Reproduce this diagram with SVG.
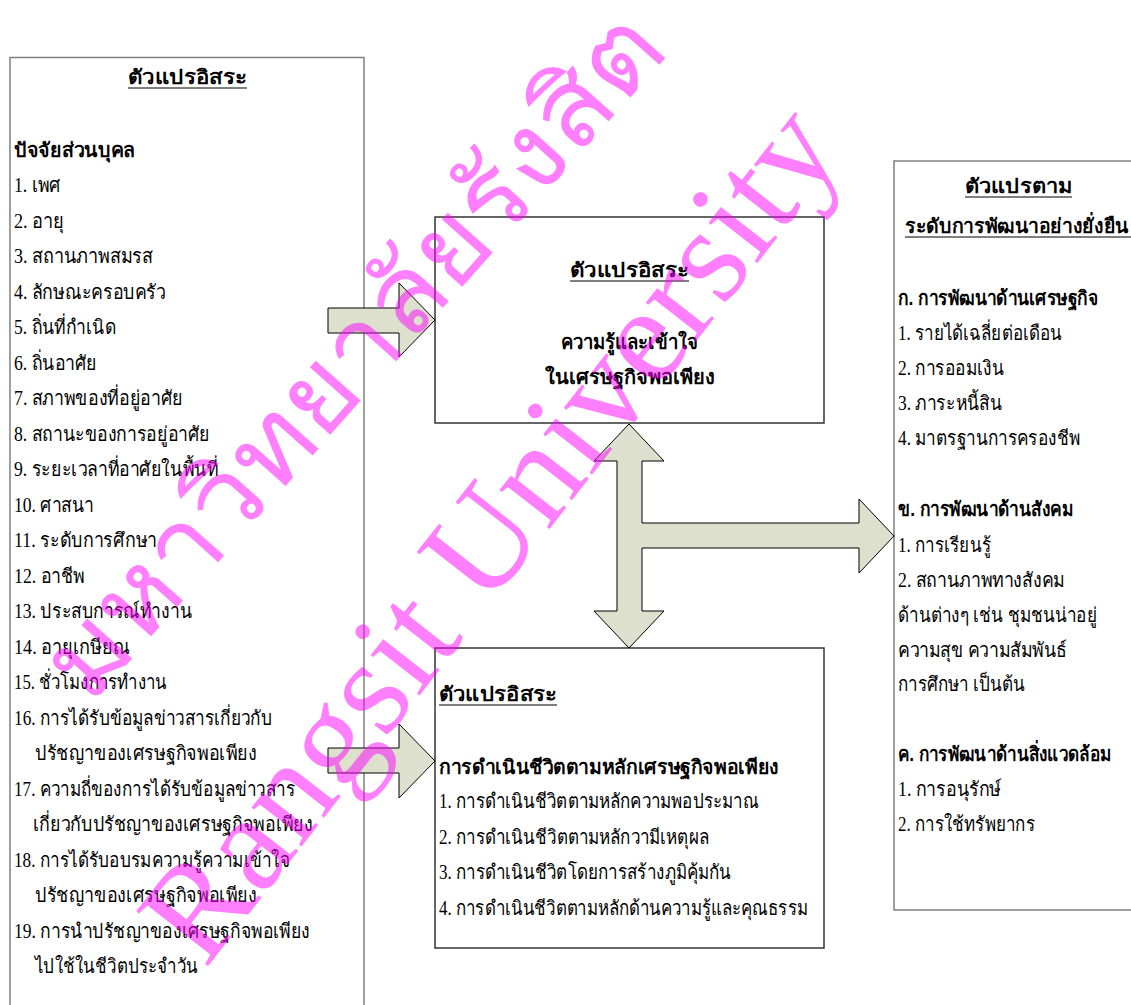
<svg xmlns="http://www.w3.org/2000/svg" width="1131" height="1005" viewBox="0 0 1131 1005">
<style>
.t{font-family:"Liberation Serif","Noto Sans",serif;font-size:20px;fill:#000}
.b{font-family:"Liberation Sans","Noto Sans",sans-serif;font-size:20px;font-weight:bold;fill:#000}
.box{fill:#fff;stroke:#808080;stroke-width:1.5}
.box2{fill:#fff;stroke:#333;stroke-width:1.5}
.ul{stroke:#000;stroke-width:1.2}
.arr{fill:#DDE0CC;stroke:#000;stroke-width:1}
.wm{fill:#FF00FF;fill-opacity:0.5}
</style>
<rect width="1131" height="1005" fill="#fff"/>
<g id="independent-personal">
<path class="box" d="M10,1010 V57.5 H364 V1010"/>
<text class="b" x="187.5" y="84" text-anchor="middle" textLength="119" lengthAdjust="spacingAndGlyphs">ตัวแปรอิสระ</text>
<line class="ul" x1="128" y1="88" x2="247" y2="88"/>
<text class="b" x="14" y="157" textLength="121" lengthAdjust="spacingAndGlyphs">ปัจจัยส่วนบุคล</text>
<text class="t" x="14" y="192" textLength="47" lengthAdjust="spacingAndGlyphs">1. เพศ</text>
<text class="t" x="14" y="227.5" textLength="50" lengthAdjust="spacingAndGlyphs">2. อายุ</text>
<text class="t" x="14" y="263" textLength="139" lengthAdjust="spacingAndGlyphs">3. สถานภาพสมรส</text>
<text class="t" x="14" y="298.5" textLength="152" lengthAdjust="spacingAndGlyphs">4. ลักษณะครอบครัว</text>
<text class="t" x="14" y="334" textLength="102" lengthAdjust="spacingAndGlyphs">5. ถิ่นที่กำเนิด</text>
<text class="t" x="14" y="369.5" textLength="83" lengthAdjust="spacingAndGlyphs">6. ถิ่นอาศัย</text>
<text class="t" x="14" y="405" textLength="169" lengthAdjust="spacingAndGlyphs">7. สภาพของที่อยู่อาศัย</text>
<text class="t" x="14" y="440.5" textLength="196" lengthAdjust="spacingAndGlyphs">8. สถานะของการอยู่อาศัย</text>
<text class="t" x="14" y="476" textLength="204" lengthAdjust="spacingAndGlyphs">9. ระยะเวลาที่อาศัยในพื้นที่</text>
<text class="t" x="14" y="511.5" textLength="80" lengthAdjust="spacingAndGlyphs">10. ศาสนา</text>
<text class="t" x="14" y="547" textLength="143" lengthAdjust="spacingAndGlyphs">11. ระดับการศึกษา</text>
<text class="t" x="14" y="582.5" textLength="71" lengthAdjust="spacingAndGlyphs">12. อาชีพ</text>
<text class="t" x="14" y="618" textLength="178" lengthAdjust="spacingAndGlyphs">13. ประสบการณ์ทำงาน</text>
<text class="t" x="14" y="653.5" textLength="116" lengthAdjust="spacingAndGlyphs">14. อายุเกษียณ</text>
<text class="t" x="14" y="689" textLength="153" lengthAdjust="spacingAndGlyphs">15. ชั่วโมงการทำงาน</text>
<text class="t" x="14" y="724.5" textLength="258" lengthAdjust="spacingAndGlyphs">16. การได้รับข้อมูลข่าวสารเกี่ยวกับ</text>
<text class="t" x="35" y="760" textLength="222" lengthAdjust="spacingAndGlyphs">ปรัชญาของเศรษฐกิจพอเพียง</text>
<text class="t" x="14" y="795.5" textLength="281" lengthAdjust="spacingAndGlyphs">17. ความถี่ของการได้รับข้อมูลข่าวสาร</text>
<text class="t" x="33" y="831" textLength="280" lengthAdjust="spacingAndGlyphs">เกี่ยวกับปรัชญาของเศรษฐกิจพอเพียง</text>
<text class="t" x="14" y="866.5" textLength="276" lengthAdjust="spacingAndGlyphs">18. การได้รับอบรมความรู้ความเข้าใจ</text>
<text class="t" x="35" y="902" textLength="222" lengthAdjust="spacingAndGlyphs">ปรัชญาของเศรษฐกิจพอเพียง</text>
<text class="t" x="14" y="937.5" textLength="296" lengthAdjust="spacingAndGlyphs">19. การนำปรัชญาของเศรษฐกิจพอเพียง</text>
<text class="t" x="35" y="973" textLength="163" lengthAdjust="spacingAndGlyphs">ไปใช้ในชีวิตประจำวัน</text>
</g>
<g id="independent-knowledge">
<rect class="box2" x="435" y="217" width="389" height="206"/>
<text class="b" x="629.5" y="277" text-anchor="middle" textLength="119" lengthAdjust="spacingAndGlyphs">ตัวแปรอิสระ</text>
<line class="ul" x1="570" y1="281" x2="689" y2="281"/>
<text class="b" x="629.5" y="349" text-anchor="middle" textLength="138" lengthAdjust="spacingAndGlyphs">ความรู้และเข้าใจ</text>
<text class="b" x="629.5" y="384" text-anchor="middle" textLength="170" lengthAdjust="spacingAndGlyphs">ในเศรษฐกิจพอเพียง</text>
</g>
<g id="independent-practice">
<rect class="box2" x="435" y="648" width="389" height="300"/>
<text class="b" x="439" y="701" textLength="118" lengthAdjust="spacingAndGlyphs">ตัวแปรอิสระ</text>
<line class="ul" x1="439" y1="705" x2="557" y2="705"/>
<text class="b" x="439" y="774" textLength="340" lengthAdjust="spacingAndGlyphs">การดำเนินชีวิตตามหลักเศรษฐกิจพอเพียง</text>
<text class="t" x="439" y="808" textLength="320" lengthAdjust="spacingAndGlyphs">1. การดำเนินชีวิตตามหลักความพอประมาณ</text>
<text class="t" x="439" y="843.5" textLength="270" lengthAdjust="spacingAndGlyphs">2. การดำเนินชีวิตตามหลักวามีเหตุผล</text>
<text class="t" x="439" y="879" textLength="292" lengthAdjust="spacingAndGlyphs">3. การดำเนินชีวิตโดยการสร้างภูมิคุ้มกัน</text>
<text class="t" x="439" y="914.5" textLength="369" lengthAdjust="spacingAndGlyphs">4. การดำเนินชีวิตตามหลักด้านความรู้และคุณธรรม</text>
</g>
<g id="dependent-sustainability">
<path class="box" d="M1140,161 H894 V910 H1140"/>
<text class="b" x="1018.5" y="193" text-anchor="middle" textLength="107" lengthAdjust="spacingAndGlyphs">ตัวแปรตาม</text>
<line class="ul" x1="965" y1="197" x2="1072" y2="197"/>
<text class="b" x="905" y="233" font-size="19" textLength="224" lengthAdjust="spacingAndGlyphs">ระดับการพัฒนาอย่างยั่งยืน</text>
<line class="ul" x1="905" y1="237" x2="1131" y2="237"/>
<text class="b" x="898" y="305" textLength="200" lengthAdjust="spacingAndGlyphs">ก. การพัฒนาด้านเศรษฐกิจ</text>
<text class="t" x="898" y="340" textLength="164" lengthAdjust="spacingAndGlyphs">1. รายได้เฉลี่ยต่อเดือน</text>
<text class="t" x="898" y="375" textLength="106" lengthAdjust="spacingAndGlyphs">2. การออมเงิน</text>
<text class="t" x="898" y="410" textLength="104" lengthAdjust="spacingAndGlyphs">3. ภาระหนี้สิน</text>
<text class="t" x="898" y="445" textLength="182" lengthAdjust="spacingAndGlyphs">4. มาตรฐานการครองชีพ</text>
<text class="b" x="898" y="516" textLength="175" lengthAdjust="spacingAndGlyphs">ข. การพัฒนาด้านสังคม</text>
<text class="t" x="898" y="552" textLength="93" lengthAdjust="spacingAndGlyphs">1. การเรียนรู้</text>
<text class="t" x="898" y="587" textLength="167" lengthAdjust="spacingAndGlyphs">2. สถานภาพทางสังคม</text>
<text class="t" x="898" y="622" textLength="199" lengthAdjust="spacingAndGlyphs">ด้านต่างๆ เช่น ชุมชนน่าอยู่</text>
<text class="t" x="898" y="657" textLength="169" lengthAdjust="spacingAndGlyphs">ความสุข ความสัมพันธ์</text>
<text class="t" x="898" y="691" textLength="127" lengthAdjust="spacingAndGlyphs">การศึกษา เป็นต้น</text>
<text class="b" x="898" y="761" font-size="18" textLength="213" lengthAdjust="spacingAndGlyphs">ค. การพัฒนาด้านสิ่งแวดล้อม</text>
<text class="t" x="898" y="796" textLength="103" lengthAdjust="spacingAndGlyphs">1. การอนุรักษ์</text>
<text class="t" x="898" y="831" textLength="137" lengthAdjust="spacingAndGlyphs">2. การใช้ทรัพยากร</text>
</g>
<g id="connectors">
<path class="arr" d="M328,308 H399 V283 L435,320 L399,357 V333 H328 Z"/>
<path class="arr" d="M328,748 H399 V724 L435,761 L399,798 V773 H328 Z"/>
<path class="arr" d="M629,424 L664,461 H642 V523 H859 V499 L894,536 L859,573 V548 H642 V611 H664 L629,648 L594,611 H617 V461 H594 Z"/>
</g>
<g id="watermark">
<text class="wm" x="90" y="706" transform="rotate(-48.4 90 706)" font-family="'DejaVu Sans','Noto Sans',sans-serif" font-size="108" textLength="875" lengthAdjust="spacingAndGlyphs">มหาวิทยาลัยรังสิต</text>
<text class="wm" x="205" y="970" transform="rotate(-52 205 970)" font-family="'Liberation Serif',serif" font-size="138" textLength="1040" lengthAdjust="spacingAndGlyphs">Rangsit University</text>
</g>
</svg>
